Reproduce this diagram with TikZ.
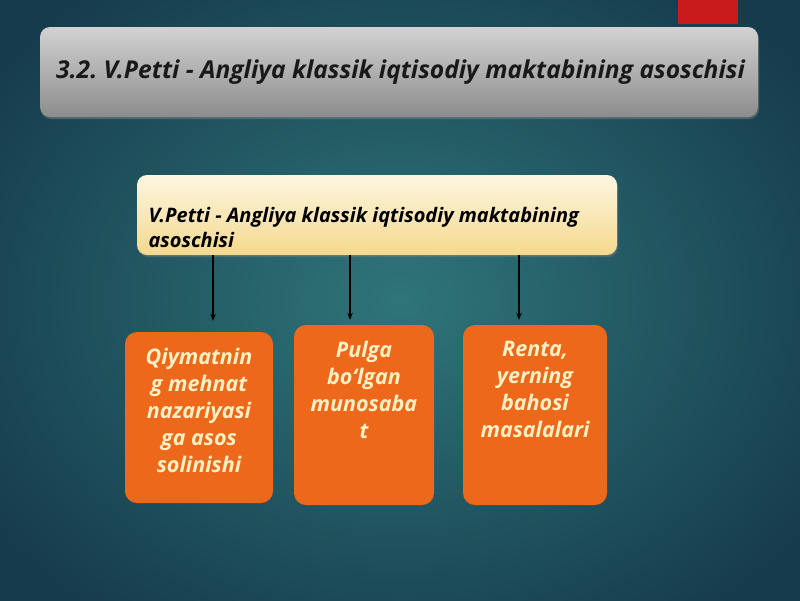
\documentclass[tikz,border=0pt]{standalone}
\usepackage{fontspec}
\setmainfont{Open Sans}
\frenchspacing
\usetikzlibrary{arrows.meta,shadows}
\definecolor{bgin}{HTML}{2F7579}
\definecolor{bgout}{HTML}{163B4C}
\definecolor{redtab}{HTML}{C91B1B}
\definecolor{graytop}{HTML}{D2D2D2}
\definecolor{graybot}{HTML}{8C8C8C}
\definecolor{yeltop}{HTML}{FDF6E0}
\definecolor{yelbot}{HTML}{F4D88E}
\definecolor{orangebox}{HTML}{EE681C}
\definecolor{creamtext}{HTML}{FDF0C2}
\tikzset{
  titlebox/.style={rounded corners=10pt, top color=graytop, bottom color=graybot, draw=none,
    drop shadow={shadow xshift=1pt, shadow yshift=-2pt, opacity=0.5}},
  yelbox/.style={rounded corners=10pt, top color=yeltop, bottom color=yelbot, draw=none,
    drop shadow={shadow xshift=1pt, shadow yshift=-2pt, opacity=0.4}},
  orbox/.style={rounded corners=12pt, fill=orangebox, draw=none, inner sep=0pt},
  ortext/.style={text=creamtext, font=\fontsize{21.5}{27}\selectfont\bfseries\itshape, align=center, anchor=north},
  arr/.style={draw=black, line width=1.1pt, -{Stealth[length=7pt,width=5.5pt]}}
}
\begin{document}
\begin{tikzpicture}[x=1pt,y=-1pt]
\useasboundingbox (0,0) rectangle (800,600);
\shade[inner color=bgin, outer color=bgout] (-100,-100) rectangle (900,700);
\fill[redtab] (678,0) rectangle (738,24);
% title
\node[titlebox, minimum width=718pt, minimum height=90pt] (title) at (399,72) {};
\node[font=\fontsize{24.6}{28}\selectfont\bfseries\itshape, text=black!90] (titletext) at (400.5,72) {3.2. V.Petti - Angliya klassik iqtisodiy maktabining asoschisi};
% yellow box
\node[yelbox, minimum width=480pt, minimum height=80pt] (yel) at (377,215) {};
\node[font=\fontsize{20}{25}\selectfont\bfseries\itshape, align=left, anchor=west, text=black] (yeltext) at (145,227) {V.Petti - Angliya klassik iqtisodiy maktabining\\asoschisi};
% orange boxes
\node[orbox, minimum width=148pt, minimum height=171pt] (o1) at (199,417.5) {};
\node[orbox, minimum width=140pt, minimum height=180pt] (o2) at (364,415) {};
\node[orbox, minimum width=144pt, minimum height=180pt] (o3) at (535,415) {};
\node[ortext] (t1) at (199,345) {Qiymatnin\\g mehnat\\nazariyasi\\ga asos\\solinishi};
\node[ortext] (t2) at (364,338) {Pulga\\bo‘lgan\\munosaba\\t};
\node[ortext] (t3) at (535,338) {Renta,\\yerning\\bahosi\\masalalari};
% arrows
\coordinate (a1) at (213,255);
\coordinate (a2) at (350,255);
\coordinate (a3) at (519,255);
\draw[arr, shorten >=11pt] (a1) -- (a1 |- o1.north);
\draw[arr, shorten >=5pt] (a2) -- (a2 |- o2.north);
\draw[arr, shorten >=5pt] (a3) -- (a3 |- o3.north);
\end{tikzpicture}
\end{document}
